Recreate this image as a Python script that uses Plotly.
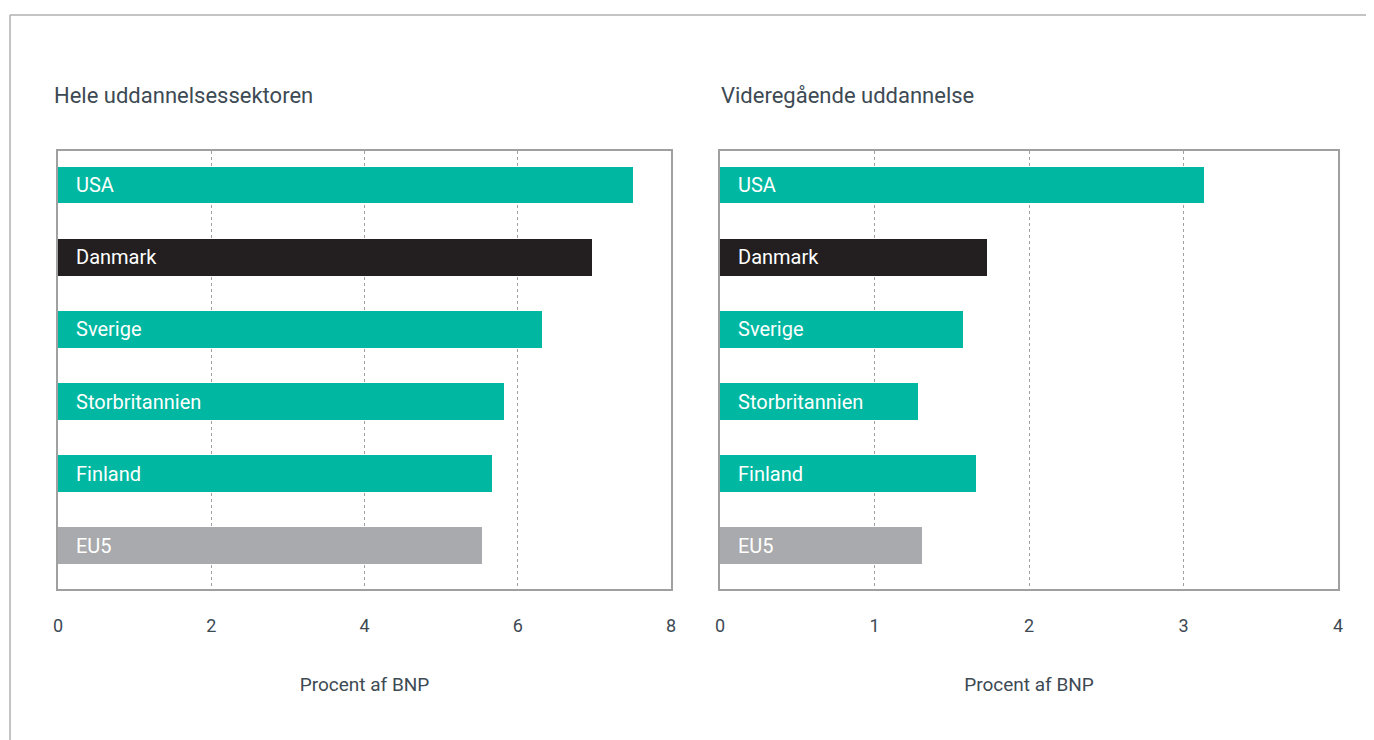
import plotly.graph_objects as go

categories = ["USA", "Danmark", "Sverige", "Storbritannien", "Finland", "EU5"]
hele_values = [7.50, 6.97, 6.32, 5.82, 5.66, 5.53]
vidg_values = [3.13, 1.73, 1.57, 1.28, 1.66, 1.31]
bar_colors = ["#00b8a1", "#231f20", "#00b8a1", "#00b8a1", "#00b8a1", "#a9aaad"]
titles = ["Hele uddannelsessektoren", "Videregående uddannelse"]
left_ticks = [0, 2, 4, 6, 8]
right_ticks = [0, 1, 2, 3, 4]
axis_title = "Procent af BNP"

FONT = "Roboto"
TXT = "#3d4a54"

W, H = 1366, 732
L, R, T, B = 50, 36, 143, 151
PW = W - L - R
PH = H - T - B

fig = go.Figure()
fig.add_trace(go.Bar(y=categories, x=hele_values, orientation="h",
                     marker=dict(color=bar_colors, line=dict(width=0)),
                     width=0.512, xaxis="x", yaxis="y", hoverinfo="x+y"))
fig.add_trace(go.Bar(y=categories, x=vidg_values, orientation="h",
                     marker=dict(color=bar_colors, line=dict(width=0)),
                     width=0.512, xaxis="x2", yaxis="y2", hoverinfo="x+y"))

annotations = []
for xr, yr in (("x", "y"), ("x2", "y2")):
    for c in categories:
        annotations.append(dict(x=0, y=c, xref=xr, yref=yr, text=c, showarrow=False,
                                xanchor="left", yanchor="middle", xshift=16,
                                font=dict(family=FONT, size=20, color="white")))

left_dom = [0, 613 / PW]
right_dom = [662 / PW, 1]
for t, dom in zip(titles, (left_dom, right_dom)):
    annotations.append(dict(x=dom[0], y=1 + (151 - 95) / PH, xref="paper", yref="paper",
                            text=t, showarrow=False, xanchor="left", yanchor="middle",
                            xshift=-6 if dom[0] == 0 else -1,
                            font=dict(family=FONT, size=22, color=TXT)))

yrange = [5.596, -0.471]
common_x = dict(showline=True, linecolor="#a0a0a0", linewidth=1.5, mirror=True,
                showgrid=True, gridcolor="#a0a0a0", griddash="dot", gridwidth=1,
                zeroline=False, ticks="", ticklabelstandoff=20,
                tickfont=dict(family=FONT, size=18, color=TXT),
                title=dict(text=axis_title, standoff=42, font=dict(family=FONT, size=19, color=TXT)))
common_y = dict(showline=True, linecolor="#a0a0a0", linewidth=1.5, mirror=True,
                showticklabels=False, showgrid=False, range=yrange, type="category",
                ticks="")

fig.update_layout(
    width=W, height=H,
    margin=dict(l=L, r=R, t=T, b=B),
    paper_bgcolor="white", plot_bgcolor="white",
    showlegend=False,
    bargap=0,
    xaxis=dict(domain=left_dom, range=[0, 8], tickvals=left_ticks, **common_x),
    xaxis2=dict(domain=right_dom, range=[0, 4], tickvals=right_ticks, anchor="y2", **common_x),
    yaxis=dict(domain=[0, 1], anchor="x", **common_y),
    yaxis2=dict(domain=[0, 1], anchor="x2", **common_y),
    annotations=annotations,
    shapes=[
        dict(type="line", xref="paper", yref="paper",
             x0=(10 - 58) / PW, x1=(10 - 58) / PW,
             y0=-B / PH - 0.05, y1=1 + (151 - 15) / PH,
             line=dict(color="#b0b0b0", width=1.5)),
        dict(type="line", xref="paper", yref="paper",
             x0=(10 - 58) / PW, x1=1 + 80 / PW,
             y0=1 + (151 - 15) / PH, y1=1 + (151 - 15) / PH,
             line=dict(color="#b0b0b0", width=1.5)),
    ],
)

fig.write_html("out.html")
